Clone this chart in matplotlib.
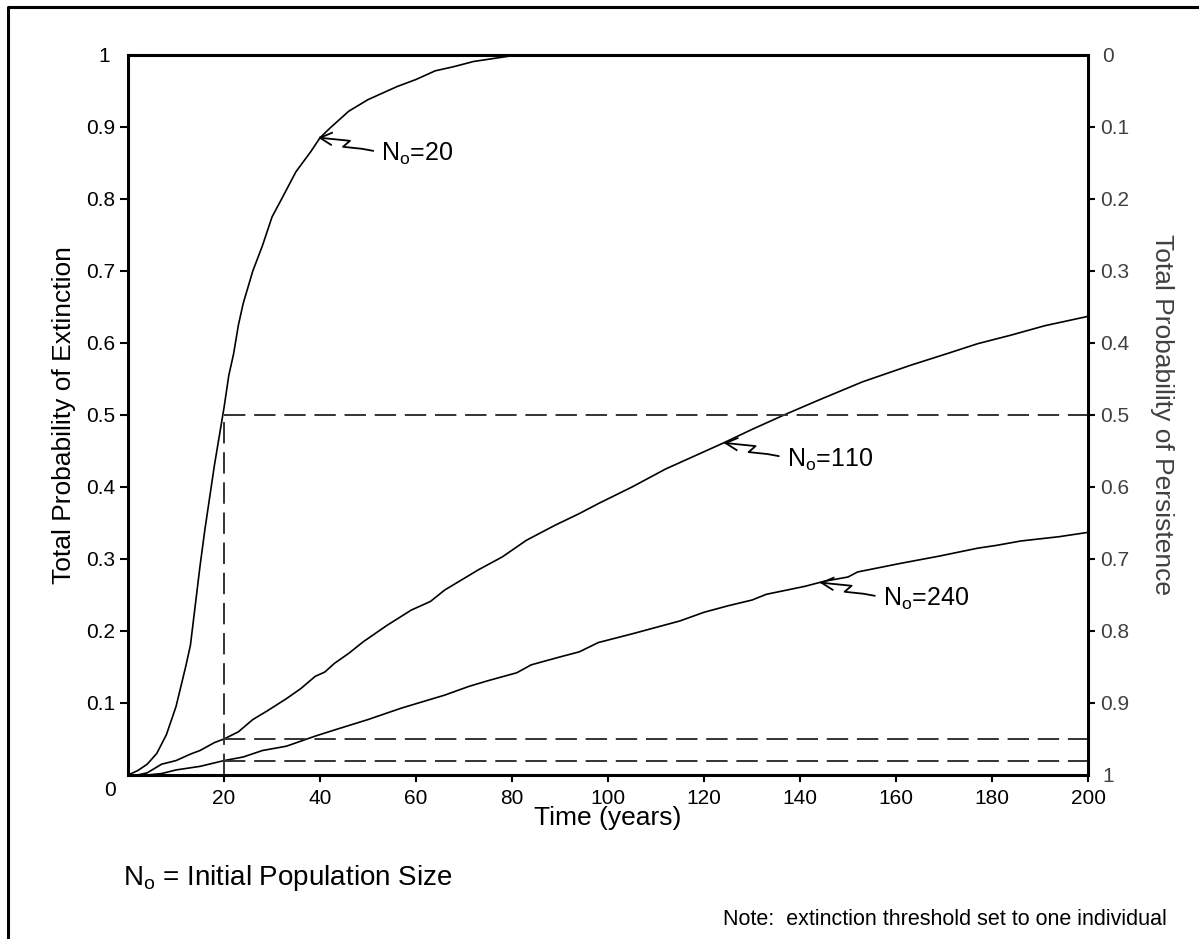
import matplotlib
matplotlib.use('Agg')
import matplotlib.pyplot as plt
import matplotlib.transforms as mtransforms
from matplotlib.lines import Line2D

plt.rcParams['font.family'] = ['Liberation Sans', 'DejaVu Sans']
plt.rcParams['mathtext.fontset'] = 'custom'
plt.rcParams['mathtext.rm'] = 'Liberation Sans'
plt.rcParams['mathtext.it'] = 'Liberation Sans:italic'

# extinction probability curves (years, probability)
years_20 = [0, 2, 4, 6, 8, 10, 12, 13, 14, 15, 16, 17, 18, 19, 20, 21, 22, 23, 24,
            26, 28, 30, 32, 35, 38, 40, 42, 46, 50, 56, 60, 64, 68, 72, 76, 81, 200]
ext_20 = [0, 0.006, 0.015, 0.03, 0.056, 0.095, 0.15, 0.18, 0.235, 0.29, 0.34, 0.385,
          0.43, 0.47, 0.51, 0.555, 0.585, 0.625, 0.655, 0.70, 0.735, 0.775, 0.80,
          0.838, 0.865, 0.885, 0.898, 0.922, 0.938, 0.956, 0.966, 0.978, 0.984,
          0.991, 0.995, 1.0, 1.0]

years_110 = [0, 2, 4, 7, 10, 13, 15, 18, 20, 23, 26, 29, 33, 36, 39, 41, 43, 46, 49,
             54, 59, 63, 66, 73, 78, 83, 89, 94, 98, 105, 112, 118, 124, 130, 137,
             144, 153, 163, 171, 177, 184, 191, 200]
ext_110 = [0, 0, 0.003, 0.015, 0.02, 0.029, 0.034, 0.045, 0.05, 0.06, 0.077, 0.089,
           0.106, 0.12, 0.137, 0.143, 0.155, 0.169, 0.185, 0.208, 0.229, 0.241,
           0.257, 0.285, 0.303, 0.326, 0.347, 0.363, 0.377, 0.40, 0.425, 0.443,
           0.461, 0.48, 0.501, 0.521, 0.546, 0.569, 0.586, 0.599, 0.611, 0.624, 0.637]

years_240 = [0, 4, 7, 10, 15, 20, 24, 28, 33, 39, 43, 50, 57, 66, 71, 75, 81, 84, 90,
             94, 98, 105, 110, 115, 120, 125, 130, 133, 141, 145, 150, 152, 161, 169,
             177, 181, 186, 194, 200]
ext_240 = [0, 0, 0.002, 0.007, 0.012, 0.02, 0.025, 0.034, 0.04, 0.054, 0.0625, 0.077,
           0.093, 0.111, 0.123, 0.131, 0.142, 0.153, 0.164, 0.171, 0.184, 0.196,
           0.205, 0.214, 0.226, 0.235, 0.243, 0.251, 0.262, 0.269, 0.275, 0.282,
           0.294, 0.304, 0.315, 0.319, 0.325, 0.331, 0.337]

# reference lines
threshold_year = 20
thresholds = [0.5, 0.05, 0.02]

# curve labels: text and the point the arrow touches
labels = ['20', '110', '240']
label_pts = [(40, 0.885), (124.5, 0.461), (144.5, 0.267)]

x_ticks = [20, 40, 60, 80, 100, 120, 140, 160, 180, 200]
y_ticks = [0.1, 0.2, 0.3, 0.4, 0.5, 0.6, 0.7, 0.8, 0.9]

W, H = 1199, 939
fig = plt.figure(figsize=(W / 100, H / 100), dpi=100)
ax = fig.add_axes([128 / W, 1 - 775 / H, 960 / W, 720 / H])

ax.plot(years_20, ext_20, color='black', lw=1.2)
ax.plot(years_110, ext_110, color='black', lw=1.2)
ax.plot(years_240, ext_240, color='black', lw=1.2)

dash = (0, (11, 4.5))
ax.hlines(thresholds, threshold_year, 200, colors='#333333', linestyles=[dash], lw=1.4)
ax.vlines(threshold_year, 0, max(thresholds), colors='#333333', linestyles=[dash], lw=1.4)

ax.set_xlim(0, 200)
ax.set_ylim(0, 1)
for sp in ax.spines.values():
    sp.set_linewidth(2.2)

ax.set_xticks(x_ticks, labels=[str(x) for x in x_ticks])
ax.set_yticks(y_ticks, labels=['%g' % y for y in y_ticks])
ax.set_yticks([1.0], labels=['1'], minor=True)
ax.tick_params(axis='x', direction='out', length=5, width=1.5, pad=5, labelsize=15)
ax.tick_params(axis='y', which='major', direction='out', length=6, width=1.5, pad=3.5, labelsize=15)
ax.tick_params(axis='y', which='minor', length=0, pad=13, labelsize=15)
ax.annotate('0', xy=(0, 0), xytext=(-13, -11), textcoords='offset points',
            ha='center', va='center', fontsize=15)

ax.set_xlabel('Time (years)', fontsize=19, va='top')
ax.xaxis.set_label_coords(0.5, -(806 - 775) / 720)
ax.set_ylabel('Total Probability of Extinction', fontsize=19, va='bottom')
ax.yaxis.set_label_coords(-(128 - 76) / 960, 0.5)

# right axis: persistence, running from 0 at the top to 1 at the bottom
ax2 = ax.twinx()
ax2.set_ylim(1, 0)
for sp in ax2.spines.values():
    sp.set_visible(False)
gray = '#404040'
ax2.set_yticks(y_ticks, labels=['%g' % y for y in y_ticks])
ax2.set_yticks([0.0, 1.0], labels=['0', '1'], minor=True)
ax2.tick_params(axis='y', which='major', direction='out', length=5, width=1.5, pad=3.6,
                labelsize=15, labelcolor=gray)
ax2.tick_params(axis='y', which='minor', length=0, pad=10, labelsize=15, labelcolor=gray)
ax2.set_ylabel('Total Probability of Persistence', fontsize=19, color=gray,
               rotation=270, va='bottom')
ax2.yaxis.set_label_coords((1150 - 128) / 960, 0.5)

# squiggly arrow pointers, shape in pixels (y downward) relative to the tip
squiggle = [(0, 0), (30, 3), (23, 9), (42, 11), (53, 13)]
barbs = [(12, -5), (11, 7)]
for txt, (t, v) in zip(labels, label_pts):
    tr = mtransforms.Affine2D().scale(1, -1) + mtransforms.ScaledTranslation(t, v, ax.transData)
    xs, ys = zip(*squiggle)
    fig.add_artist(Line2D(xs, ys, transform=tr, color='black', lw=1.3, clip_on=False))
    for bx, by in barbs:
        fig.add_artist(Line2D([0, bx], [0, by], transform=tr, color='black', lw=1.3,
                              clip_on=False))
    ax.annotate(r'N$_{\mathregular{o}}$=' + txt, xy=(t, v), xytext=(61 * 0.72, -23.5 * 0.72),
                textcoords='offset points', ha='left', va='baseline', fontsize=18)

fig.text(123 / W, 1 - 885 / H, r'N$_{\mathregular{o}}$ = Initial Population Size',
         fontsize=20, ha='left', va='baseline')
fig.text(1167 / W, 1 - 925 / H, 'Note:  extinction threshold set to one individual',
         fontsize=15.5, ha='right', va='baseline')

# frame around the figure (top and left edges visible)
fig.add_artist(Line2D([8 / W, 8 / W, 1], [0, 1 - 7 / H, 1 - 7 / H],
                      transform=fig.transFigure, color='black', lw=2.2))

fig.savefig('out.png', dpi=100)
